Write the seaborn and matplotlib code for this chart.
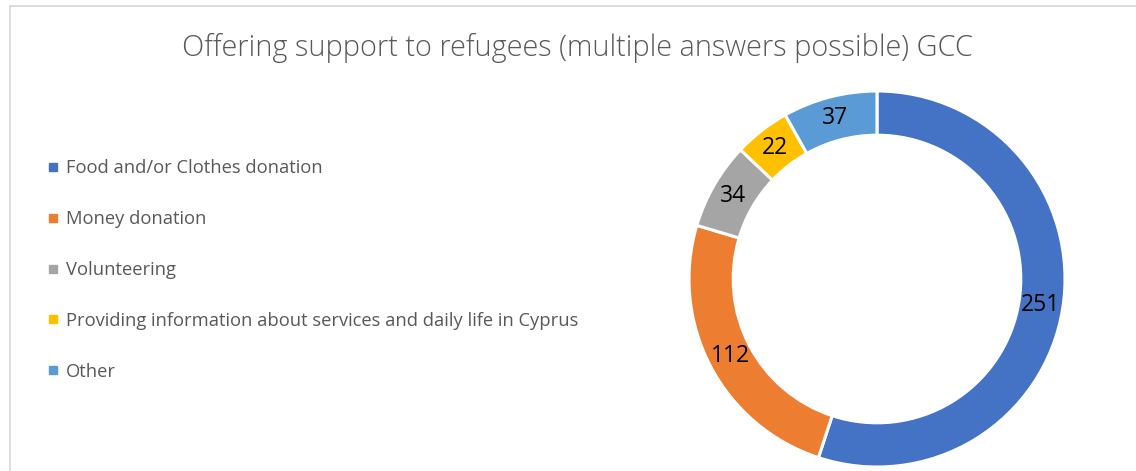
import matplotlib
matplotlib.use("Agg")
import matplotlib.pyplot as plt
from matplotlib.lines import Line2D
import numpy as np
import seaborn as sns

# Survey answers (multiple answers possible)
categories = [
    "Food and/or Clothes donation",
    "Money donation",
    "Volunteering",
    "Providing information about services and daily life in Cyprus",
    "Other",
]
counts = [251, 112, 34, 22, 37]
colors = ["#4472C4", "#ED7D31", "#A5A5A5", "#FFC000", "#5B9BD5"]
title = "Offering support to refugees (multiple answers possible) GCC"

sns.set_theme(style="white")
plt.rcParams["font.family"] = ["Open Sans", "DejaVu Sans"]
palette = sns.color_palette(colors)

W, H = 1136, 471
fig = plt.figure(figsize=(W / 100, H / 100), dpi=100)
fig.patch.set_facecolor("white")

# light chart-area frame (top and left edges visible)
fig.add_artist(Line2D([10 / W, 10 / W], [0, 1 - 6 / H], transform=fig.transFigure,
                      color="#D9D9D9", lw=1.3))
fig.add_artist(Line2D([10 / W, 1], [1 - 6 / H, 1 - 6 / H], transform=fig.transFigure,
                      color="#D9D9D9", lw=1.3))

fig.text(577 / W, 1 - 48 / H, title, ha="center", va="center",
         fontsize=20.8, color="#595959", fontweight="light")

# doughnut
cx, cy, r = 877, 279, 188
ax = fig.add_axes([(cx - r) / W, (H - cy - r) / H, 2 * r / W, 2 * r / H])
ring = 0.235
wedges, _ = ax.pie(counts, colors=palette, startangle=90, counterclock=False,
                   wedgeprops=dict(width=ring, edgecolor="white", linewidth=2.2))
ax.set_xlim(-1, 1)
ax.set_ylim(-1, 1)
ax.set_aspect("equal")
ax.axis("off")

rmid = 1 - ring / 2
for w, v in zip(wedges, counts):
    ang = np.deg2rad((w.theta1 + w.theta2) / 2)
    ax.text(rmid * np.cos(ang), rmid * np.sin(ang), str(v), ha="center", va="center",
            fontsize=16.5, color="black")

# legend
handles = [Line2D([], [], marker="s", linestyle="none", markersize=5.5,
                  markerfacecolor=c, markeredgecolor=c) for c in colors]
leg = fig.legend(handles, categories, loc="upper left",
                 bbox_to_anchor=(40 / W, 1 - 152 / H), frameon=False,
                 fontsize=13.2, labelcolor="#595959", handlelength=0.6,
                 handletextpad=0.4, labelspacing=1.79, borderaxespad=0)

fig.savefig("out.png", dpi=100, facecolor="white")
